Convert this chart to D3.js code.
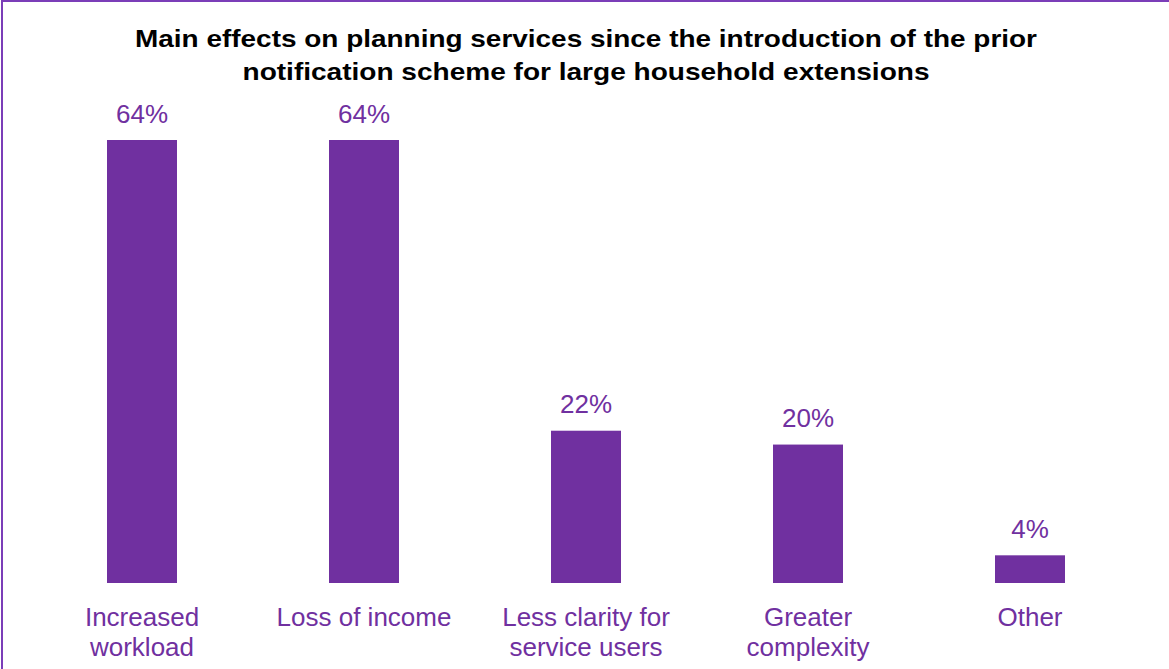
<!DOCTYPE html>
<html>
<head>
<meta charset="utf-8">
<script src="https://cdn.jsdelivr.net/npm/d3@7"></script>
<style>
  html, body { margin: 0; padding: 0; background: #ffffff; }
  svg { display: block; }
</style>
</head>
<body>
<svg id="chart" width="1169" height="669"></svg>
<script>
// Survey responses: share of planning services reporting each effect
const categories = [
  ["Increased", "workload"],
  ["Loss of income"],
  ["Less clarity for", "service users"],
  ["Greater", "complexity"],
  ["Other"]
];
const values = [64, 64, 22, 20, 4];
const titleLines = [
  "Main effects on planning services since the introduction of the prior",
  "notification scheme for large household extensions"
];

const W = 1169, H = 669;
const purple = "#7030A0";
const svg = d3.select("#chart");

// Frame around the chart area
svg.append("rect")
  .attr("x", 2).attr("y", 1)
  .attr("width", W + 20).attr("height", H + 20)
  .attr("fill", "none")
  .attr("stroke", "#7B3DB8")
  .attr("stroke-width", 2);

// Title (wide bold face, stretched to the line widths)
const titleWidths = [902, 687];
const title = svg.append("g");
titleLines.forEach((t, i) => {
  title.append("text")
    .attr("x", 586)
    .attr("y", 46.5 + i * 33.5)
    .attr("text-anchor", "middle")
    .attr("font-family", "Liberation Sans, Arial, sans-serif")
    .attr("font-weight", "bold")
    .attr("font-size", 24.5)
    .attr("textLength", titleWidths[i])
    .attr("lengthAdjust", "spacingAndGlyphs")
    .attr("fill", "#000")
    .text(t);
});

// Scales
const idx = d3.range(values.length);
const pad = 152 / 222;
const x = d3.scaleBand()
  .domain(idx)
  .range([31, 1141])
  .paddingInner(pad)
  .paddingOuter(pad / 2);

const baseY = 583;
const y = d3.scaleLinear()
  .domain([0, 64])
  .range([baseY, 140]);

// Bars
svg.append("g").selectAll("rect")
  .data(values)
  .join("rect")
  .attr("x", (d, i) => x(i))
  .attr("y", d => y(d))
  .attr("width", x.bandwidth())
  .attr("height", d => baseY - y(d))
  .attr("fill", purple);

// Value labels
svg.append("g").selectAll("text")
  .data(values)
  .join("text")
  .attr("x", (d, i) => x(i) + x.bandwidth() / 2)
  .attr("y", d => y(d) - 17.5)
  .attr("text-anchor", "middle")
  .attr("font-family", "Liberation Sans, Arial, sans-serif")
  .attr("font-size", 26)
  .attr("fill", purple)
  .text(d => d + "%");

// Category labels
const cat = svg.append("g").selectAll("text")
  .data(categories)
  .join("text")
  .attr("x", (d, i) => x(i) + x.bandwidth() / 2)
  .attr("y", 626)
  .attr("text-anchor", "middle")
  .attr("font-family", "Liberation Sans, Arial, sans-serif")
  .attr("font-size", 26)
  .attr("fill", purple);

cat.each(function(lines, i) {
  const t = d3.select(this);
  const cx = x(i) + x.bandwidth() / 2;
  lines.forEach((ln, j) => {
    t.append("tspan")
      .attr("x", cx)
      .attr("dy", j === 0 ? 0 : 29.5)
      .text(ln);
  });
});
</script>
</body>
</html>
